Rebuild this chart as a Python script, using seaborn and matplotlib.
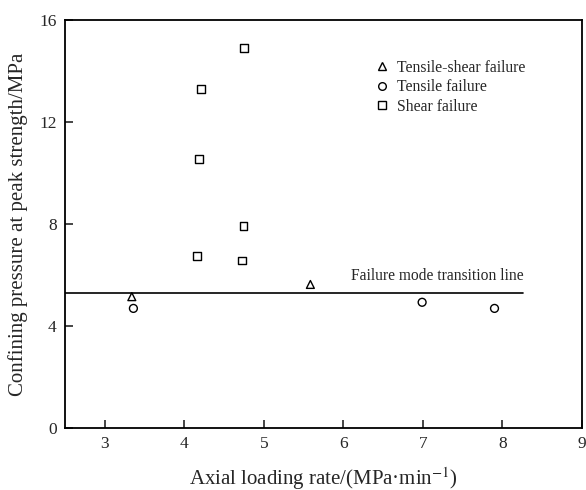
import matplotlib
matplotlib.use("Agg")
import matplotlib.pyplot as plt
import seaborn as sns
import pandas as pd
from matplotlib.lines import Line2D

# Data
shear_x = [4.75, 4.21, 4.18, 4.745, 4.16, 4.72]
shear_y = [14.9, 13.3, 10.55, 7.92, 6.76, 6.57]
tensile_shear_x = [3.34, 5.585]
tensile_shear_y = [5.15, 5.63]
tensile_x = [3.36, 6.99, 7.9]
tensile_y = [4.69, 4.93, 4.69]
categories = ["Tensile-shear failure", "Tensile failure", "Shear failure"]
transition_y = 5.3
transition_x = [2.5, 8.26]
x_ticks = [3, 4, 5, 6, 7, 8, 9]
y_ticks = [0, 4, 8, 12, 16]

df = pd.DataFrame({
    "x": tensile_shear_x + tensile_x + shear_x,
    "y": tensile_shear_y + tensile_y + shear_y,
    "mode": [categories[0]] * len(tensile_shear_x)
            + [categories[1]] * len(tensile_x)
            + [categories[2]] * len(shear_x),
})

sns.set_style("white")
plt.rcParams["font.family"] = ["Liberation Serif", "DejaVu Serif"]
plt.rcParams["mathtext.fontset"] = "stix"

fig = plt.figure(figsize=(5.86, 4.9), dpi=100)
ax = fig.add_axes([65 / 586, 1 - 428 / 490, (582 - 65) / 586, (428 - 20) / 490])

markers = {categories[0]: "^", categories[1]: "o", categories[2]: "s"}
sns.scatterplot(data=df, x="x", y="y", style="mode", markers=markers,
                hue="mode", palette={c: "black" for c in categories},
                s=32, facecolor="none", linewidth=1.0, ax=ax, legend=False)
for coll in ax.collections:
    coll.set_facecolor("none")
    coll.set_edgecolor("black")

ax.plot(transition_x, [transition_y, transition_y], color="black", lw=1.2)
ax.text(transition_x[1], transition_y + 0.33, "Failure mode transition line",
        ha="right", va="bottom", fontsize=11.2)

handles = [Line2D([], [], marker=markers[c], ls="none", mfc="none", mec="black",
                  ms=5.5, mew=1.0) for c in categories]
ax.legend(handles, categories, loc="upper left", bbox_to_anchor=(0.57, 0.937),
          frameon=False, fontsize=11.3, handletextpad=0.5, labelspacing=0.22,
          handlelength=1.0)

ax.set_xlim(2.5, 9)
ax.set_ylim(0, 16)
ax.set_xticks(x_ticks)
ax.set_yticks(y_ticks)
ax.tick_params(direction="in", length=6, width=1.2, labelsize=12.5,
               top=False, right=False, bottom=True, left=True, pad=6)
for sp in ax.spines.values():
    sp.set_linewidth(1.3)
    sp.set_color("black")

ax.set_xlabel("Axial loading rate/(MPa·min$^{-1}$)", fontsize=15, labelpad=9)
ax.set_ylabel("Confining pressure at peak strength/MPa", fontsize=15, labelpad=8)

fig.savefig("out.png", dpi=100)
